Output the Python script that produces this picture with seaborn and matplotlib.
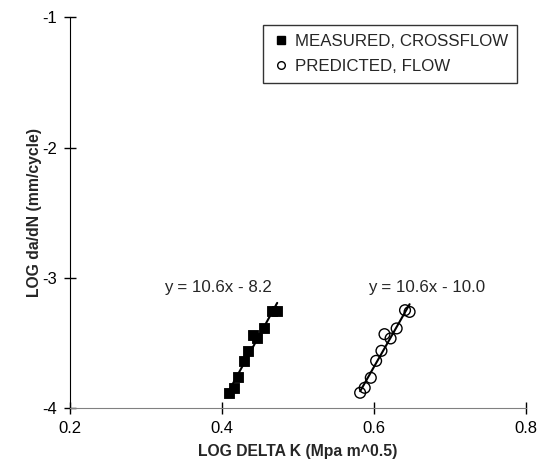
import numpy as np
import pandas as pd
import matplotlib
matplotlib.use("Agg")
import matplotlib.pyplot as plt
import seaborn as sns
from matplotlib.lines import Line2D

# Data
measured_x = [0.410, 0.416, 0.422, 0.429, 0.435, 0.441, 0.447, 0.456, 0.466, 0.473]
measured_y = [-3.883, -3.845, -3.765, -3.638, -3.561, -3.438, -3.466, -3.389, -3.254, -3.254]
predicted_x = [0.582, 0.588, 0.596, 0.603, 0.610, 0.614, 0.622, 0.630, 0.641, 0.647]
predicted_y = [-3.883, -3.845, -3.768, -3.638, -3.561, -3.433, -3.466, -3.389, -3.249, -3.262]
series_names = ["MEASURED, CROSSFLOW", "PREDICTED, FLOW"]
equations = ["y = 10.6x - 8.2", "y = 10.6x - 10.0"]
x_ticks = [0.2, 0.4, 0.6, 0.8]
y_ticks = [-4, -3, -2, -1]

sns.set_style("ticks")
plt.rcParams['font.family'] = ['Liberation Sans', 'DejaVu Sans']

df_m = pd.DataFrame({"x": measured_x, "y": measured_y})
df_p = pd.DataFrame({"x": predicted_x, "y": predicted_y})

W, H = 546, 465
L, R, T, B = 69.5, 526, 17.3, 408
fig = plt.figure(figsize=(W / 100, H / 100), dpi=100)
ax = fig.add_axes([L / W, 1 - B / H, (R - L) / W, (B - T) / H])

sns.regplot(data=df_m, x="x", y="y", scatter=False, ci=None, ax=ax,
            line_kws=dict(color="black", lw=1.5), truncate=True)
sns.regplot(data=df_p, x="x", y="y", scatter=False, ci=None, ax=ax,
            line_kws=dict(color="black", lw=1.5), truncate=True)
sns.scatterplot(data=df_m, x="x", y="y", marker="s", color="black", s=60,
                edgecolor="black", ax=ax, zorder=3)
sns.scatterplot(data=df_p, x="x", y="y", marker="o", facecolor="none",
                edgecolor="black", linewidth=1.0, s=60, ax=ax, zorder=3)

ax.set_xlim(0.2, 0.8)
ax.set_ylim(-4, -1)
ax.set_xticks(x_ticks)
ax.set_yticks(y_ticks)
ax.set_xticklabels([f"{v:.1f}" for v in x_ticks])
ax.set_yticklabels([f"{v:d}" for v in y_ticks])
ax.tick_params(direction="inout", length=8, width=1, labelsize=12, colors="black", pad=5)
sns.despine(ax=ax)
ax.spines["left"].set_color("black")
ax.spines["bottom"].set_color("#808080")
ax.set_xlabel("LOG DELTA K (Mpa m^0.5)", fontsize=11.3, fontweight="bold", labelpad=6)
ax.set_ylabel("LOG da/dN (mm/cycle)", fontsize=11.3, fontweight="bold", labelpad=0)

ax.text(0.3955, -3.075, equations[0], fontsize=12.2, ha="center", va="center")
ax.text(0.6696, -3.075, equations[1], fontsize=12.2, ha="center", va="center")

handles = [
    Line2D([], [], marker="s", color="black", linestyle="none", markersize=5.5),
    Line2D([], [], marker="o", markerfacecolor="none", markeredgecolor="black",
           linestyle="none", markersize=5.5),
]
leg = ax.legend(handles, series_names, loc="upper right",
                bbox_to_anchor=((517 - L) / (R - L), 1.0 - (25 - T) / (B - T)),
                frameon=True, fancybox=False, edgecolor="black", fontsize=12.2,
                handletextpad=0.3, handlelength=1.0, borderpad=0.55, labelspacing=0.55,
                borderaxespad=0)
leg.get_frame().set_linewidth(1.0)

fig.savefig("out.png", dpi=100)
